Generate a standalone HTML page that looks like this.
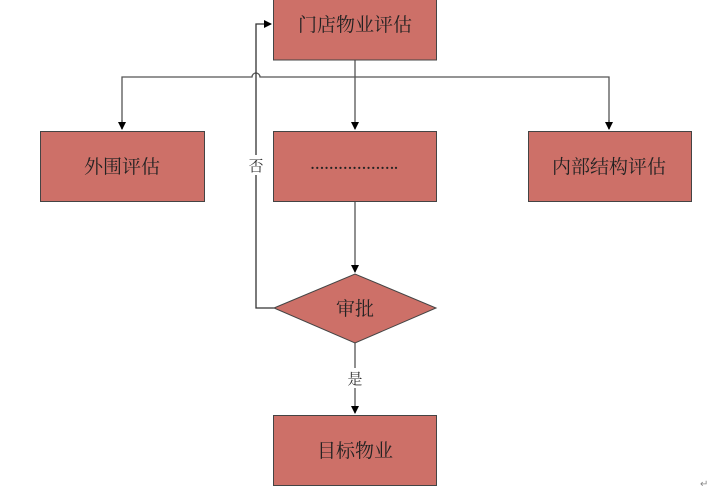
<!DOCTYPE html>
<html><head><meta charset="utf-8"><style>html,body{margin:0;padding:0;background:#fff;width:727px;height:489px;overflow:hidden}</style></head><body>
<svg width="727" height="489" viewBox="0 0 727 489" xmlns="http://www.w3.org/2000/svg" font-family="Liberation Serif, Noto Serif CJK SC, serif">
<defs><marker id="a" markerWidth="8" markerHeight="8" refX="7" refY="4" orient="auto" markerUnits="userSpaceOnUse"><path d="M0,0 L8,4 L0,8 z" fill="#000"/></marker></defs>
<g stroke="#555" stroke-width="1.3" fill="none">
<line x1="355" y1="60" x2="355" y2="129" marker-end="url(#a)"/>
<path d="M122,129 V77 H252 a4,4 0 0 1 8,0 H609 V129" />
<line x1="122" y1="120" x2="122" y2="129" marker-end="url(#a)"/>
<line x1="609" y1="120" x2="609" y2="129" marker-end="url(#a)"/>
<line x1="355" y1="201" x2="355" y2="272" marker-end="url(#a)"/>
<path d="M274,308 H256 V24 H271" stroke="#333" marker-end="url(#a)"/>
<line x1="355" y1="343" x2="355" y2="413" marker-end="url(#a)"/>
</g>
<rect x="247" y="155" width="18" height="20" fill="#fff"/>
<text x="256" y="171" font-size="15" text-anchor="middle" fill="#333">否</text>
<rect x="345" y="368" width="20" height="20" fill="#fff"/>
<text x="355" y="384" font-size="15" text-anchor="middle" fill="#333">是</text>
<g fill="#cd7068" stroke="#444" stroke-width="1">
<rect x="273.5" y="-1" width="163" height="61"/>
<rect x="40.5" y="131.5" width="164" height="70"/>
<rect x="273.5" y="131.5" width="163" height="70"/>
<rect x="528.5" y="131.5" width="163" height="70"/>
<polygon points="274,308 355,274 436,308 355,343"/>
<rect x="273.5" y="415.5" width="163" height="70"/>
</g>
<g font-size="19" fill="#222" text-anchor="middle">
<text x="355" y="31">门店物业评估</text>
<text x="122" y="173">外围评估</text>
<text x="354" y="169" font-size="14" font-weight="bold">……………….</text>
<text x="609" y="173">内部结构评估</text>
<text x="355" y="315">审批</text>
<text x="355" y="457">目标物业</text>
</g>
<text x="700" y="487" font-size="10" fill="#888">↵</text>
</svg>
</body></html>
